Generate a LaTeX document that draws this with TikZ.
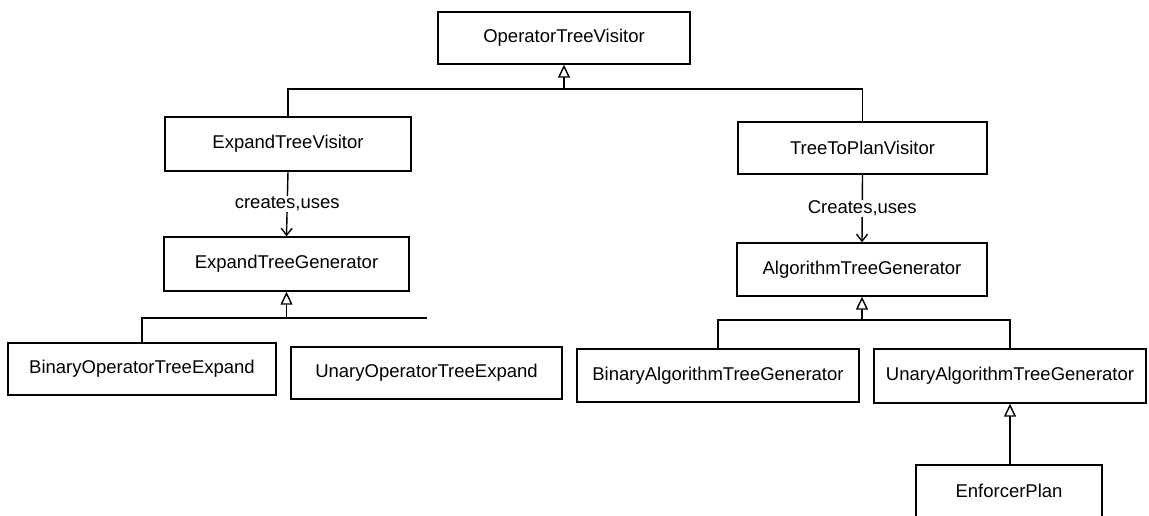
\documentclass[tikz,border=0pt]{standalone}
\usepackage{fontspec}
\setmainfont{Liberation Sans}
\usetikzlibrary{arrows.meta}
\begin{document}
\begin{tikzpicture}[x=1pt,y=-1pt,
  cls/.style={draw, line width=1.4pt, inner sep=0pt, minimum height=52pt,
              font=\fontsize{18.5}{22}\selectfont},
  link/.style={line width=1.4pt},
  gen/.style={link, -{Triangle[open, length=13pt, width=12pt]}},
  dep/.style={link, -{Straight Barb[length=7pt, width=11pt]}},
  lbl/.style={fill=white, inner sep=1pt, font=\fontsize{18.5}{22}\selectfont}]
\useasboundingbox (0,0) rectangle (1149,516);
\clip (0,0) rectangle (1149,516);

% classes
\node[cls, minimum width=252pt] (otv) at (564,38) {OperatorTreeVisitor};
\node[cls, minimum width=246pt, minimum height=54pt] (etv) at (288,144) {ExpandTreeVisitor};
\node[cls, minimum width=249pt] (ttp) at (862.5,148) {TreeToPlanVisitor};
\node[cls, minimum width=245pt, minimum height=54pt] (etg) at (286.5,264) {ExpandTreeGenerator};
\node[cls, minimum width=250pt, minimum height=53pt] (atg) at (862,269.5) {AlgorithmTreeGenerator};
\node[cls, minimum width=268pt] (boe) at (142,369) {BinaryOperatorTreeExpand};
\node[cls, minimum width=271pt] (uoe) at (426.5,373) {UnaryOperatorTreeExpand};
\node[cls, minimum width=282pt, minimum height=53pt] (bag) at (718,375.5) {BinaryAlgorithmTreeGenerator};
\node[cls, minimum width=272pt, minimum height=54pt] (uag) at (1010,376) {UnaryAlgorithmTreeGenerator};
\node[cls, minimum width=186pt] (enf) at (1009,491) {EnforcerPlan};

% junction points of the inheritance trees
\coordinate (jA) at (564,89);
\coordinate (jB) at (286.5,318);
\coordinate (jC) at (862,320);

% inheritance: OperatorTreeVisitor
\draw[gen] (jA) -- (otv.south);
\draw[link] (etv.north) |- (jA) -| (ttp.north);

% creates,uses dependencies
\draw[dep] (etv.south) -- node[lbl] {creates,uses} (etg.north);
\draw[dep] (ttp.south) -- node[lbl] {Creates,uses} (atg.north);

% inheritance: ExpandTreeGenerator
\draw[gen] (jB) -- (etg.south);
\draw[link] (boe.north) |- (jB) -- (uoe.north |- jB);

% inheritance: AlgorithmTreeGenerator
\draw[gen] (jC) -- (atg.south);
\draw[link] (bag.north) |- (jC) -| (uag.north);

% inheritance: UnaryAlgorithmTreeGenerator
\draw[gen] (uag.south |- enf.north) -- (uag.south);
\end{tikzpicture}
\end{document}
